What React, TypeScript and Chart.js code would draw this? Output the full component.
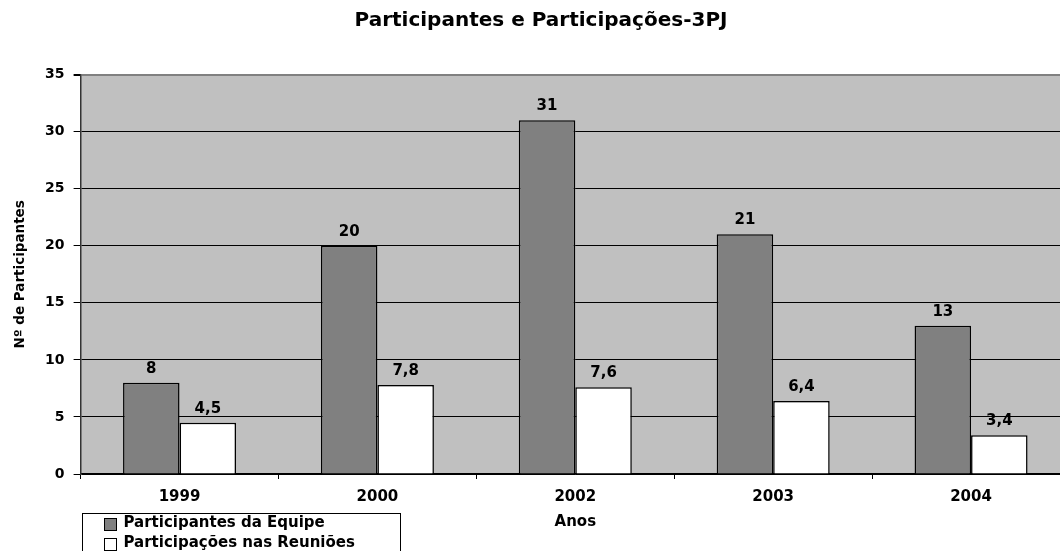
import React, { useEffect, useRef } from "react";
import { Chart, registerables } from "chart.js";

Chart.register(...registerables);

// Anos e valores de cada série
const anos = ["1999", "2000", "2002", "2003", "2004"];
const participantesEquipe = [8, 20, 31, 21, 13];
const participacoesReunioes = [4.5, 7.8, 7.6, 6.4, 3.4];

const serieNomes = ["Participantes da Equipe", "Participações nas Reuniões"];
const serieCores = ["#808080", "#ffffff"];

const FONT = "'DejaVu Sans', 'Liberation Sans', sans-serif";

const formatBR = (v: number) => String(v).replace(".", ",");

// Fundo cinza da área de plotagem
const plotBackground = {
  id: "plotBackground",
  beforeDraw(chart: any) {
    const { ctx, chartArea } = chart;
    ctx.save();
    ctx.fillStyle = "#c0c0c0";
    ctx.fillRect(chartArea.left, chartArea.top, chartArea.right - chartArea.left, chartArea.bottom - chartArea.top);
    ctx.restore();
  },
};

// Rótulos de valor acima de cada barra
const valueLabels = {
  id: "valueLabels",
  afterDatasetsDraw(chart: any) {
    const { ctx } = chart;
    ctx.save();
    ctx.font = `bold 15px ${FONT}`;
    ctx.fillStyle = "#000";
    ctx.textAlign = "center";
    ctx.textBaseline = "middle";
    chart.data.datasets.forEach((ds: any, i: number) => {
      const meta = chart.getDatasetMeta(i);
      meta.data.forEach((bar: any, j: number) => {
        ctx.fillText(formatBR(ds.data[j]), bar.x, bar.y - 14);
      });
    });
    ctx.restore();
  },
};

// Legenda em caixa no canto inferior esquerdo
const boxLegend = {
  id: "boxLegend",
  afterDraw(chart: any) {
    const { ctx, chartArea } = chart;
    const x0 = Math.round(chartArea.left + 1) + 0.5;
    const y0 = Math.round(chartArea.bottom + 39) + 0.5;
    const w = 318;
    const h = 50;
    ctx.save();
    ctx.fillStyle = "#ffffff";
    ctx.fillRect(x0, y0, w, h);
    ctx.strokeStyle = "#000";
    ctx.lineWidth = 1;
    ctx.strokeRect(x0, y0, w, h);
    ctx.font = `bold 15px ${FONT}`;
    ctx.textBaseline = "middle";
    ctx.textAlign = "left";
    chart.data.datasets.forEach((ds: any, i: number) => {
      const cy = y0 + 10 + i * 20;
      ctx.fillStyle = ds.backgroundColor;
      ctx.fillRect(x0 + 22, Math.round(cy - 6) + 0.5, 12, 12);
      ctx.strokeRect(x0 + 22, Math.round(cy - 6) + 0.5, 12, 12);
      ctx.fillStyle = "#000";
      ctx.fillText(ds.label, x0 + 41, cy);
    });
    ctx.restore();
  },
};

export default function App() {
  const canvasRef = useRef<HTMLCanvasElement | null>(null);

  useEffect(() => {
    if (!canvasRef.current) return;
    Chart.defaults.font.family = FONT;
    Chart.defaults.font.weight = "bold";
    Chart.defaults.color = "#000";

    const chart = new Chart(canvasRef.current, {
      type: "bar",
      data: {
        labels: anos,
        datasets: [
          {
            label: serieNomes[0],
            data: participantesEquipe,
            backgroundColor: serieCores[0],
            borderColor: "#000",
            borderWidth: 1.5,
            categoryPercentage: 0.571,
            barPercentage: 1,
          },
          {
            label: serieNomes[1],
            data: participacoesReunioes,
            backgroundColor: serieCores[1],
            borderColor: "#000",
            borderWidth: 1.5,
            categoryPercentage: 0.571,
            barPercentage: 1,
          },
        ],
      },
      options: {
        responsive: false,
        animation: false,
        layout: { padding: { left: 12, right: 0, top: 0, bottom: 0 } },
        plugins: {
          legend: { display: false },
          tooltip: { enabled: false },
          title: {
            display: true,
            text: "Participantes e Participações-3PJ",
            font: { size: 20, weight: "bold", family: FONT },
            color: "#000",
            padding: { top: 9, bottom: 41.6 },
          },
        },
        scales: {
          x: {
            afterFit(scale: any) {
              scale.height = 77;
            },
            grid: {
              offset: true,
              drawOnChartArea: false,
              drawTicks: true,
              tickLength: 5,
              color: "#000",
            },
            border: { color: "#000", width: 1.5 },
            ticks: {
              font: { size: 15, weight: "bold", family: FONT },
              color: "#000",
              padding: 9,
              maxRotation: 0,
            },
            title: {
              display: true,
              text: "Anos",
              font: { size: 15, weight: "bold", family: FONT },
              color: "#000",
              padding: { top: 0, bottom: 20 },
            },
          },
          y: {
            min: 0,
            max: 35,
            afterFit(scale: any) {
              scale.width = 68.6;
            },
            grid: {
              color: (c: any) => (c.tick && c.tick.value === 35 ? "#808080" : "#000"),
              lineWidth: (c: any) => (c.tick && c.tick.value === 35 ? 2 : 1),
              tickColor: "#000",
              tickLength: 7,
              drawTicks: true,
            },
            border: { color: "#333", width: 1.5 },
            ticks: {
              stepSize: 5,
              font: { size: 14, weight: "bold", family: FONT },
              color: "#000",
              padding: 9,
            },
            title: {
              display: true,
              text: "Nº de Participantes",
              font: { size: 13.5, weight: "bold", family: FONT },
              color: "#000",
              padding: { top: 0, bottom: 0 },
            },
          },
        },
      },
      plugins: [plotBackground, valueLabels, boxLegend],
    });

    return () => chart.destroy();
  }, []);

  return (
    <div
      style={{
        position: "fixed",
        left: 0,
        top: 0,
        width: "100vw",
        height: "100vh",
        overflow: "hidden",
        background: "#fff",
      }}
    >
      <canvas ref={canvasRef} width={1070} height={551} style={{ display: "block" }} />
    </div>
  );
}
